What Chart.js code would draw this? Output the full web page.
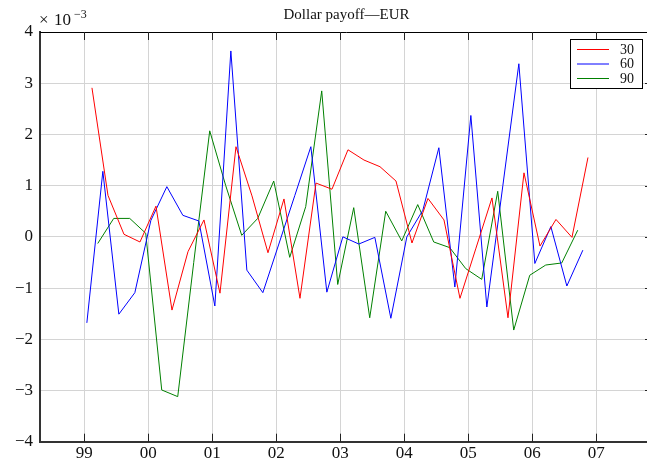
<!DOCTYPE html>
<html>
<head>
<meta charset="utf-8">
<script src="https://cdn.jsdelivr.net/npm/chart.js@4"></script>
<style>
  html, body { margin: 0; padding: 0; overflow: hidden; background: #fff; }
</style>
</head>
<body>
<canvas id="c" width="660" height="464"></canvas>
<script>
// years after 1999 (99 = 0), labels shown on the x axis
const tickYears = [0, 1, 2, 3, 4, 5, 6, 7, 8];
const tickLabels = ['99', '00', '01', '02', '03', '04', '05', '06', '07'];

// quarterly observations, values in units of 1e-3
const start30 = 0.12;
const start60 = 0.04;
const start90 = 0.21;
const payoff30 = [2.91, 0.81, 0.05, -0.1, 0.6, -1.43, -0.29, 0.33, -1.1, 1.76, 0.8, -0.31, 0.74, -1.2, 1.05, 0.93,
  1.7, 1.5, 1.37, 1.09, -0.12, 0.75, 0.33, -1.2, -0.22, 0.76, -1.58, 1.25, -0.18, 0.34, -0.01, 1.55];
const payoff60 = [-1.68, 1.28, -1.51, -1.09, 0.32, 0.98, 0.42, 0.31, -1.35, 3.63, -0.65, -1.09, -0.14, 0.81, 1.76, -1.08,
  0, -0.14, -0.01, -1.59, 0, 0.52, 1.74, -0.98, 2.37, -1.37, 1.0, 3.38, -0.52, 0.2, -0.96, -0.26];
const payoff90 = [-0.13, 0.36, 0.36, 0.07, -2.99, -3.12, -0.5, 2.07, 1.0, 0.03, 0.36, 1.09, -0.4, 0.59, 2.85, -0.93,
  0.57, -1.58, 0.5, -0.08, 0.63, -0.1, -0.21, -0.62, -0.83, 0.89, -1.82, -0.75, -0.55, -0.51, 0.13];

const serif = "'Liberation Serif', 'Times New Roman', serif";

function points(start, values) {
  return values.map((v, i) => ({ x: start + i * 0.25, y: v }));
}

// axes box, inner ticks, exponent label and the legend box
const decorations = {
  id: 'decorations',
  afterDraw(chart) {
    const { ctx, chartArea: a, scales } = chart;
    ctx.save();
    // top and right border
    ctx.strokeStyle = '#000';
    ctx.lineWidth = 1;
    ctx.beginPath();
    ctx.moveTo(a.left, a.top + 0.5);
    ctx.lineTo(a.right, a.top + 0.5);
    ctx.moveTo(a.right - 0.5, a.top);
    ctx.lineTo(a.right - 0.5, a.bottom);
    ctx.stroke();

    ctx.strokeStyle = '#222';
    ctx.beginPath();
    tickYears.forEach((t) => {
      const x = Math.round(scales.x.getPixelForValue(t)) + 0.5;
      ctx.moveTo(x, a.top);
      ctx.lineTo(x, a.top + 8);
      ctx.moveTo(x, a.bottom);
      ctx.lineTo(x, a.bottom - 8);
    });
    for (let v = -3; v <= 3; v++) {
      const y = Math.round(scales.y.getPixelForValue(v)) + 0.5;
      ctx.moveTo(a.right, y);
      ctx.lineTo(a.right - 8, y);
    }
    ctx.stroke();

    // x10^-3
    ctx.fillStyle = '#111';
    ctx.textBaseline = 'alphabetic';
    ctx.textAlign = 'left';
    ctx.font = '17px ' + serif;
    ctx.fillText('\u00d7', 39, 25);
    ctx.fillText('10', 54, 25);
    ctx.font = '12px ' + serif;
    ctx.fillText('\u22123', 74, 18);

    // legend
    const lx = 570, ly = 39, lw = 72, lh = 49;
    ctx.fillStyle = '#fff';
    ctx.fillRect(lx, ly, lw, lh);
    ctx.strokeStyle = '#000';
    ctx.strokeRect(lx + 0.5, ly + 0.5, lw, lh);
    ctx.font = '14px ' + serif;
    ctx.textBaseline = 'middle';
    chart.data.datasets.forEach((ds, i) => {
      const y = ly + 10 + i * 14.5;
      ctx.strokeStyle = ds.borderColor;
      ctx.beginPath();
      ctx.moveTo(577, y + 0.5);
      ctx.lineTo(609, y + 0.5);
      ctx.stroke();
      ctx.fillStyle = '#111';
      ctx.fillText(ds.label, 620, y + 1);
    });
    ctx.restore();
  }
};

new Chart(document.getElementById('c'), {
  type: 'line',
  data: {
    datasets: [
      { label: '30', data: points(start30, payoff30), borderColor: '#ff0000' },
      { label: '60', data: points(start60, payoff60), borderColor: '#0000ff' },
      { label: '90', data: points(start90, payoff90), borderColor: '#008000' }
    ]
  },
  options: {
    responsive: false,
    animation: false,
    devicePixelRatio: 1,
    layout: { padding: { right: 7 } },
    elements: {
      line: { borderWidth: 1, tension: 0, fill: false },
      point: { radius: 0 }
    },
    plugins: {
      legend: { display: false },
      tooltip: { enabled: false },
      title: {
        display: true,
        text: 'Dollar payoff\u2014EUR',
        fullSize: false,
        color: '#111',
        font: { family: serif, size: 15, weight: 'normal', lineHeight: 1.2 },
        padding: { top: 6, bottom: 8 }
      }
    },
    scales: {
      x: {
        type: 'linear',
        min: -0.692,
        max: 8.886,
        afterBuildTicks: (s) => { s.ticks = tickYears.map((v) => ({ value: v })); },
        afterFit: (s) => { s.height = 22.3; },
        grid: { color: '#d4d4d4', lineWidth: 1, drawTicks: false },
        border: { color: '#333', width: 2 },
        ticks: {
          padding: 2,
          color: '#111',
          font: { family: serif, size: 17 },
          callback: (v, i) => tickLabels[i]
        }
      },
      y: {
        min: -4,
        max: 4,
        afterFit: (s) => { s.width = 40; },
        grid: { color: '#d4d4d4', lineWidth: 1, drawTicks: false },
        border: { color: '#333', width: 2 },
        ticks: {
          stepSize: 1,
          padding: 7,
          color: '#111',
          font: { family: serif, size: 17 },
          callback: (v) => (v < 0 ? '\u2212' + Math.abs(v) : String(v))
        }
      }
    }
  },
  plugins: [decorations]
});
</script>
</body>
</html>
